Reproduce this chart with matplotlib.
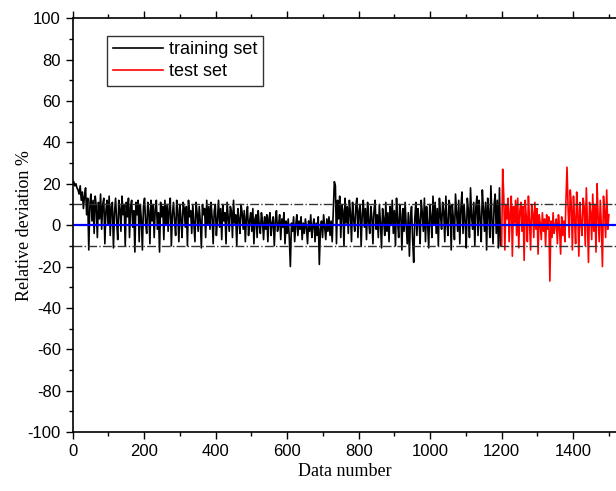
import matplotlib.pyplot as plt
import numpy as np
from matplotlib.ticker import MultipleLocator

# Desviación relativa (%), cada 3 datos
paso = 3
entrenamiento = [
    20, 21, 19, 20, 18, 17, 15, 19, 12, 16, 8, 14, 18, 5, 13, -12, 10, 15, 2, 12,
    -4, 14, 9, -6, 11, 3, 15, -2, 10, 13, -9, 7, 12, 0, 14, -5, 9, 11, -11, 6,
    13, 2, -7, 12, 8, -3, 14, 5, 10, -10, 11, 4, 13, -6, 9, 12, -1, 7, -13, 11,
    5, 12, -8, 10, 3, -12, 9, 13, 1, -4, 11, 7, -9, 12, 2, 10, -6, 8, 12, -2,
    6, -13, 11, 4, 9, -7, 12, 0, 10, -3, 8, 13, -10, 5, 11, 2, -5, 12, 7, -8,
    10, 3, -6, 11, 8, -1, 9, -10, 12, 4, 7, -4, 10, 1, -8, 11, 6, -3, 9, 2,
    -11, 10, 5, 8, -6, 12, 0, 9, -2, 11, 4, -9, 7, 10, -5, 3, 12, -1, 8, -7,
    10, 2, 6, -9, 11, 4, -3, 9, 7, -6, 12, 1, 5, -10, 8, 3, -4, 10, 6, -2,
    7, -8, 4, 9, -5, 2, 6, -3, 8, -9, 3, 5, -6, 7, 0, -4, 6, 2, -7, 4,
    -2, 5, -8, 3, 6, -5, 1, 4, -10, 2, 7, -3, 0, 5, -7, 3, -1, 6, -9, 2,
    -4, 3, -6, -20, 1, -3, 4, -8, 0, 5, -5, 2, -2, 4, -7, 1, -4, 3, -1, -9,
    2, -3, 5, -6, 0, 3, -8, 1, -5, 4, -19, -2, 2, -6, 5, -1, -7, 3, -3, 4,
    -5, 2, -8, 6, 21, 19, -9, 12, 3, 14, -6, 10, 7, -10, 13, 1, 9, -4, 12, 6,
    -8, 11, 3, -3, 9, 13, -6, 7, 10, -10, 5, 12, -1, 8, -7, 11, 2, -4, 9, 4,
    -9, 7, 12, -2, 5, -6, 10, 1, -11, 8, 3, -5, 11, -3, 6, -8, 9, 0, 12, -4,
    7, -10, 13, 2, -6, 10, 5, -12, 8, -3, 11, 0, -9, 6, -15, 4, 9, -7, -18, 3,
    11, -5, 8, 2, -9, 12, 6, -3, 13, -8, 9, 1, -11, 10, 4, -6, 14, 0, 11, -4,
    8, -10, 13, 5, -2, 11, 7, -8, 14, 1, -5, 12, 9, -12, 10, 3, -7, 15, 6, -3,
    12, -9, 8, 16, -4, 10, 2, -11, 13, 7, -6, 18, 4, -2, 11, -10, 9, 14, -5, 12,
    3, -8, 17, 8, -3, 11, -12, 13, 6, -6, 19, 2, -9, 10, 15, -4, 12, -11, 18, -10,
]
prueba = [
    -10, 27, 14, -12, 10, 3, 13, -8, 6, 14, -15, 9, 1, 12, -5, 13, -11, 7, 11, -3,
    9, -17, 12, 4, -8, 14, 2, -12, 10, 6, -6, 11, -2, 8, -14, 5, 1, -7, 6, -3,
    3, -10, 5, -2, 4, -27, 2, -6, 6, -4, 0, 3, -9, 5, -1, -14, 4, -5, 2, -8,
    12, 28, 8, -6, 17, 10, -12, 14, 3, -9, 16, 7, -15, 11, 1, -5, 13, 9, -10, 18,
    2, -18, 11, 6, -7, 15, -3, 10, -13, 20, 4, -8, 12, 0, -20, 14, 7, -6, 17, -2, 5,
]
x_entrenamiento = np.arange(len(entrenamiento)) * paso
x_prueba = 1200 + np.arange(len(prueba)) * paso

plt.rcParams["font.family"] = ["Liberation Sans", "DejaVu Sans"]
plt.rcParams["axes.unicode_minus"] = False

fig = plt.figure(figsize=(6.16, 4.91), dpi=100)
ax = fig.add_axes([0.118, 0.12, 0.882, 0.843])

ax.plot(x_entrenamiento, entrenamiento, color="black", linewidth=1.2, label="training set")
ax.plot(x_prueba, prueba, color="red", linewidth=1.2, label="test set")

# Referencias: 0 y banda de +-10 %
ax.axhline(0, color="blue", linewidth=1.6)
ax.axhline(10, color="#333333", linestyle="-.", linewidth=1.0)
ax.axhline(-10, color="#333333", linestyle="-.", linewidth=1.0)

ax.set_xlim(0, 1520)
ax.set_ylim(-100, 100)
ax.xaxis.set_major_locator(MultipleLocator(200))
ax.xaxis.set_minor_locator(MultipleLocator(100))
ax.yaxis.set_major_locator(MultipleLocator(20))
ax.yaxis.set_minor_locator(MultipleLocator(10))
ax.tick_params(which="both", direction="out", top=True, labelsize=12)
ax.tick_params(which="major", length=5, width=1)
ax.tick_params(which="minor", length=3, width=1)
ax.spines["right"].set_visible(False)
for lado in ["left", "bottom", "top"]:
    ax.spines[lado].set_linewidth(1.2)

ax.set_xlabel("Data number", fontsize=13, family=["Liberation Serif"], labelpad=3)
ax.set_ylabel("Relative deviation %", fontsize=13, family=["Liberation Serif"], labelpad=-4)

ax.legend(loc="upper left", bbox_to_anchor=(0.064, 0.958), fontsize=13, frameon=True,
          fancybox=False, edgecolor="black", handlelength=2.8, handletextpad=0.3,
          borderpad=0.3, labelspacing=0.3, borderaxespad=0)

fig.savefig("out.png", dpi=100)
